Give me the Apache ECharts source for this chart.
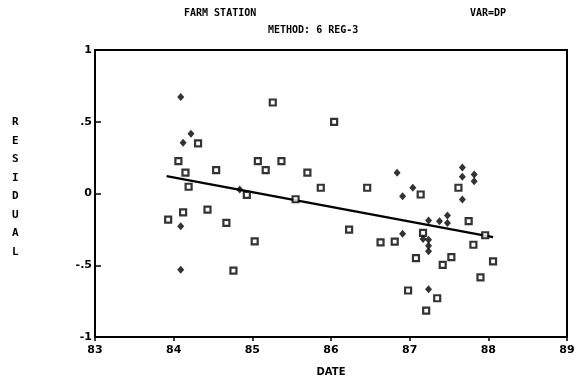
<!DOCTYPE html>
<html><head><meta charset="utf-8">
<script src="https://cdn.jsdelivr.net/npm/echarts@6/dist/echarts.min.js"></script>
<style>html,body{margin:0;padding:0;background:#fff}#c{width:579px;height:383px}</style>
</head><body><div id="c"></div>
<script>
const xTicks = ['83','84','85','86','87','88','89'];
const yTicks = ['1','.5','0','-.5','-1'];
const squares = [[84.06,0.226],[84.15,0.145],[84.31,0.35],[84.54,0.163],[84.19,0.047],[85.26,0.634],[86.04,0.499],[85.07,0.226],[85.17,0.163],[85.37,0.226],[85.70,0.145],[85.87,0.04],[86.46,0.04],[84.93,-0.01],[85.55,-0.04],[84.12,-0.131],[84.43,-0.112],[83.93,-0.182],[84.67,-0.205],[85.03,-0.333],[86.23,-0.252],[86.63,-0.34],[86.81,-0.336],[84.76,-0.538],[86.98,-0.676],[87.62,0.04],[87.14,-0.007],[87.75,-0.193],[87.96,-0.291],[87.17,-0.275],[87.81,-0.357],[87.08,-0.45],[87.53,-0.443],[87.42,-0.497],[88.06,-0.473],[87.90,-0.585],[87.35,-0.73],[87.21,-0.816]];
const diamonds = [[84.09,0.673],[84.22,0.417],[84.12,0.354],[86.84,0.145],[86.91,-0.02],[84.84,0.028],[84.09,-0.229],[86.91,-0.28],[84.09,-0.531],[87.67,0.182],[87.67,0.117],[87.82,0.133],[87.82,0.086],[87.67,-0.042],[87.04,0.04],[87.24,-0.189],[87.38,-0.193],[87.48,-0.154],[87.48,-0.205],[87.17,-0.317],[87.24,-0.322],[87.24,-0.364],[87.24,-0.403],[87.24,-0.667]];
const fitLine = [[83.91,0.121],[88.06,-0.304]];

const F = 'DejaVu Sans';
const chart = echarts.init(document.getElementById('c'));
chart.setOption({
  animation:false,
  backgroundColor:'#fff',
  grid:{left:95,right:12,top:50,bottom:46,show:true,borderColor:'#000',borderWidth:2,backgroundColor:'transparent'},
  xAxis:{type:'value',min:83,max:89,interval:1,
    axisLine:{onZero:false,lineStyle:{color:'#000',width:2}},
    axisTick:{show:true,length:4,lineStyle:{color:'#000',width:1.5}},
    splitLine:{show:false},
    axisLabel:{color:'#000',fontFamily:F,fontWeight:'bold',fontSize:11,margin:8,
      formatter:(v)=>xTicks[Math.round(v-83)]},
    name:'DATE',nameLocation:'middle',nameGap:30,
    nameTextStyle:{color:'#000',fontFamily:F,fontWeight:'bold',fontSize:10}},
  yAxis:{type:'value',min:-1,max:1,interval:0.5,
    axisLine:{onZero:false,lineStyle:{color:'#000',width:2}},
    axisTick:{show:true,inside:true,length:6,lineStyle:{color:'#000',width:1.5}},
    splitLine:{show:false},
    axisLabel:{color:'#000',fontFamily:F,fontWeight:'bold',fontSize:11,margin:3,
      formatter:(v)=>yTicks[Math.round((1-v)/0.5)]}},
  graphic:[
    {type:'text',left:184,top:8,style:{text:'FARM STATION',font:'bold 10px "DejaVu Sans Mono"',fill:'#000'}},
    {type:'text',left:470,top:8,style:{text:'VAR=DP',font:'bold 10px "DejaVu Sans Mono"',fill:'#000'}},
    {type:'text',left:268,top:25,style:{text:'METHOD: 6 REG-3',font:'bold 10px "DejaVu Sans Mono"',fill:'#000'}},
    {type:'text',left:12,top:113,style:{text:'R\nE\nS\nI\nD\nU\nA\nL',font:'bold 11px "DejaVu Sans Mono"',lineHeight:18.5,fill:'#000',align:'left'}}
  ],
  series:[
    {type:'line',data:fitLine,symbol:'none',lineStyle:{color:'#000',width:2.5},z:1},
    {type:'scatter',data:squares,symbol:'rect',symbolSize:6,itemStyle:{color:'#fff',borderColor:'#000',borderWidth:2.2},z:3},
    {type:'scatter',data:diamonds,symbol:'diamond',symbolSize:[7,8],itemStyle:{color:'#000'},z:4}
  ]
});
</script></body></html>
